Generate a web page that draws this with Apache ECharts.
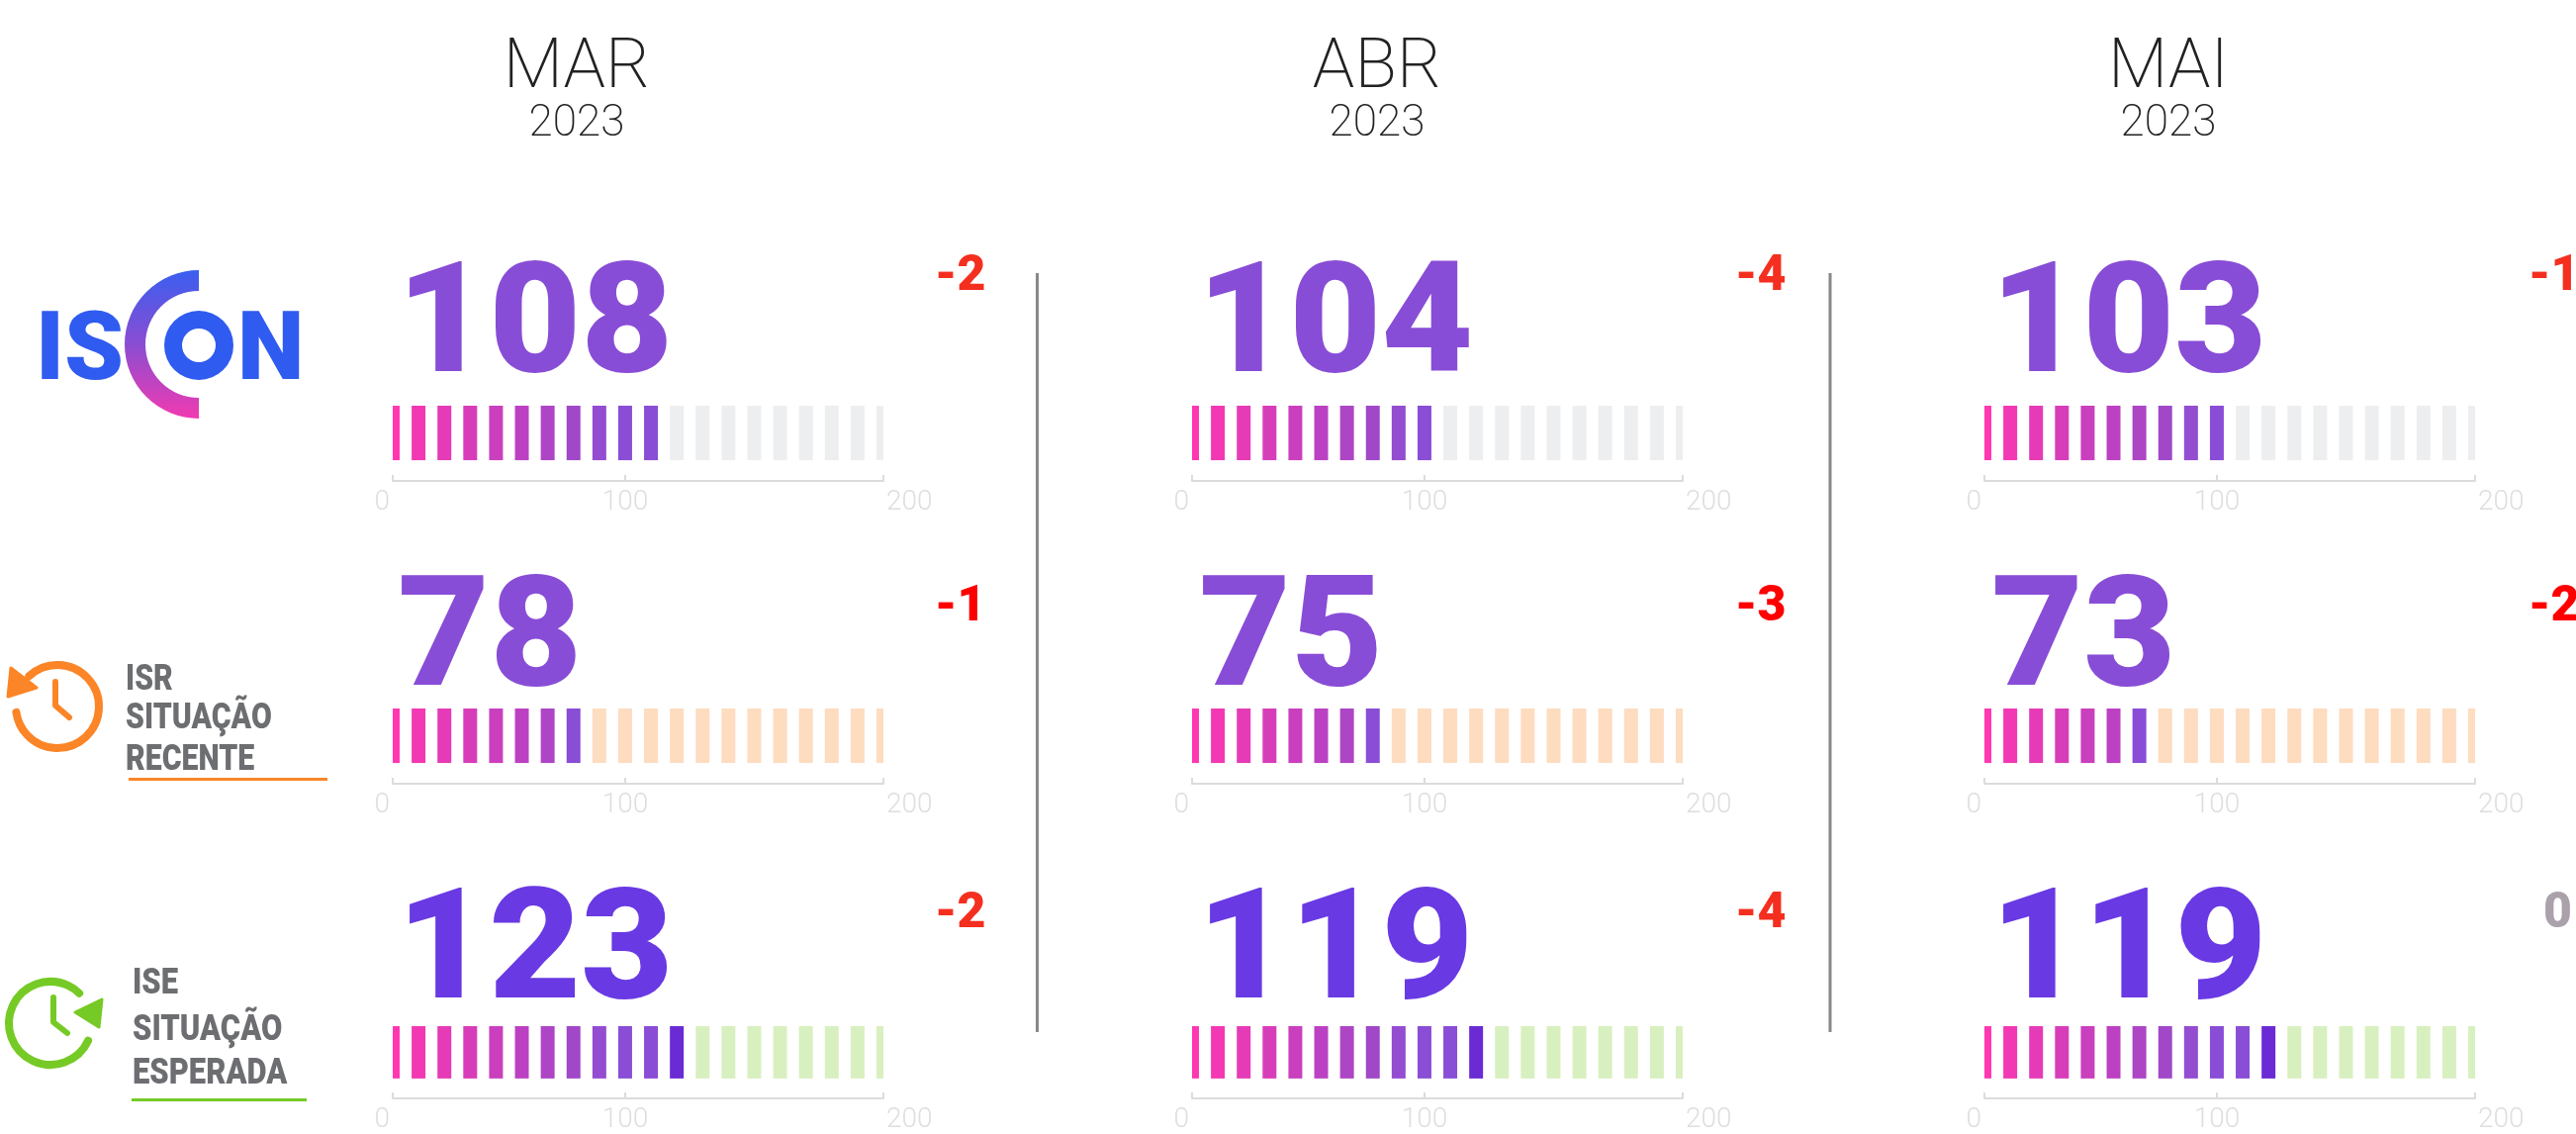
<!DOCTYPE html>
<html>
<head>
<meta charset="utf-8">
<title>ISCON</title>
<script src="https://cdn.jsdelivr.net/npm/echarts@6/dist/echarts.min.js"></script>
<style>
  html, body { margin: 0; padding: 0; background: #fff; }
  #main { width: 2604px; height: 1146px; }
</style>
</head>
<body>
<div id="main"></div>
<script>
// dados
const months = ['MAR', 'ABR', 'MAI']
const year = '2023'
const iscon = [108, 104, 103]
const isr = [78, 75, 73]
const ise = [123, 119, 119]
const isconDelta = ['-2', '-4', '-1']
const isrDelta = ['-1', '-3', '-2']
const iseDelta = ['-2', '-4', '0']
const cells = [10, 20, 30, 40, 50, 60, 70, 80, 90, 100, 110, 120, 130, 140, 150, 160, 170, 180, 190, 200]
const shownTicks = { 10: '0', 100: '100', 200: '200' }
const ramp = ['#ff38b2', '#f338b3', '#e53bb6', '#d83db9', '#ca3fbd', '#bc41c2', '#ad45c5', '#a048c8', '#944cd0', '#8a4dd6', '#8a4dd6']

// layout
const colLeft = [397, 1205, 2006]
const colWidth = 496
const rows = [
  { values: iscon, deltas: isconDelta, top: 410, axis: 486, numY: 320, deltaY: 275, numColor: '#884dd6', last: '#8a4dd6', rest: '#edeef0', deltaColor: '#f42f1f' },
  { values: isr, deltas: isrDelta, top: 716, axis: 792, numY: 637, deltaY: 609, numColor: '#884dd6', last: '#8a4dd6', rest: '#fddcc0', deltaColor: '#ff0000' },
  { values: ise, deltas: iseDelta, top: 1037, axis: 1113, numY: 953, deltaY: 919, numColor: '#6939e3', last: '#6a2bd4', rest: '#d8f0c0', deltaColor: '#f42f1f' }
]
const numLeft = [[401, 1210, 2012], [402, 1212, 2013], [401, 1210, 2012]]
const deltaLeft = [945, 1754, 2556]
const headerX = [583, 1392, 2192]

const grids = []
const xAxes = []
const yAxes = []
const series = []
const graphics = []

// y = centro da altura das maiusculas
function txt (text, x, y, size, weight, fill, align, scaleX) {
  graphics.push({
    type: 'text',
    silent: true,
    x: x,
    y: y + size * 0.1,
    scaleX: scaleX || 1,
    style: { text: text, x: 0, y: 0, font: weight + ' ' + size + 'px Roboto', fill: fill, textAlign: align || 'left', textVerticalAlign: 'middle' }
  })
}

// barra com corte nas bordas do grid (as das pontas ficam pela metade)
function renderCell (params, api) {
  const top = api.coord([api.value(0), 1])
  const base = api.coord([api.value(0), 0])
  const cs = params.coordSys
  return {
    type: 'rect',
    shape: echarts.graphic.clipRectByRect(
      { x: top[0] - 7, y: top[1], width: 14, height: base[1] - top[1] },
      { x: cs.x, y: cs.y, width: cs.width, height: cs.height }
    ),
    style: { fill: api.visual('color') }
  }
}

rows.forEach(function (row, r) {
  months.forEach(function (m, c) {
    const idx = grids.length
    const filled = Math.round(row.values[c] / 10)
    grids.push({ left: colLeft[c], top: row.top, width: colWidth, height: row.axis - row.top })
    xAxes.push({
      gridIndex: idx,
      type: 'category',
      boundaryGap: false,
      data: cells.map(String),
      axisLine: { onZero: false, lineStyle: { color: '#dcdcdc', width: 2 } },
      axisTick: {
        inside: true,
        length: 6,
        lineStyle: { color: '#dcdcdc', width: 2 },
        interval: function (i, v) { return shownTicks[v] !== undefined }
      },
      axisLabel: {
        margin: 8,
        color: '#dedede',
        fontFamily: 'Roboto',
        fontWeight: 300,
        fontSize: 28,
        showMinLabel: true,
        showMaxLabel: true,
        alignMinLabel: 'right',
        alignMaxLabel: 'left',
        interval: function (i, v) { return shownTicks[v] !== undefined },
        formatter: function (v) {
          if (v === '10') return '{min|0}'
          if (v === '200') return '{max|200}'
          return shownTicks[v]
        },
        rich: {
          min: { padding: [0, 3, 0, 0], color: '#dedede', fontFamily: 'Roboto', fontWeight: 300, fontSize: 28 },
          max: { padding: [0, 0, 0, 3], color: '#dedede', fontFamily: 'Roboto', fontWeight: 300, fontSize: 28 }
        }
      },
      splitLine: { show: false }
    })
    yAxes.push({ gridIndex: idx, type: 'value', min: -0.38, max: 1, show: false })
    series.push({
      type: 'custom',
      xAxisIndex: idx,
      yAxisIndex: idx,
      silent: true,
      animation: false,
      renderItem: renderCell,
      encode: { x: 0, y: 1 },
      data: cells.map(function (v, i) {
        let color = row.rest
        if (i < filled) color = i === filled - 1 ? row.last : ramp[Math.min(i, ramp.length - 1)]
        return { value: [i, 1], itemStyle: { color: color } }
      })
    })
    txt(String(row.values[c]), numLeft[r][c], row.numY, 156, 900, row.numColor, 'left', 1.03)
    const d = row.deltas[c]
    txt(d, d === '0' ? 2571 : deltaLeft[c], row.deltaY, 50, 900, d === '0' ? '#aaa1aa' : row.deltaColor)
  })
})

// cabecalho
months.forEach(function (m, c) {
  txt(m, headerX[c], 63, 70, 200, '#222222', 'center')
  txt(year, headerX[c], 122, 44, 200, '#222222', 'center')
})

// separadores
;[1048.5, 1850].forEach(function (x) {
  graphics.push({ type: 'line', silent: true, shape: { x1: x, y1: 276, x2: x, y2: 1043 }, style: { stroke: '#888888', lineWidth: 3 } })
})

// logo ISCON
txt('IS', 36, 349, 96, 900, '#2f5bf0')
txt('N', 240, 349, 96, 900, '#2f5bf0')
graphics.push({
  type: 'ring',
  silent: true,
  shape: { cx: 201, cy: 349, r: 35, r0: 17 },
  style: { fill: '#2f5bf0' }
})
graphics.push({
  type: 'sector',
  silent: true,
  shape: { cx: 201, cy: 348, r0: 54, r: 75, startAngle: Math.PI / 2, endAngle: Math.PI * 1.5, clockwise: true },
  style: {
    fill: {
      type: 'linear', x: 0, y: 0, x2: 0, y2: 1,
      colorStops: [{ offset: 0, color: '#3a5ef0' }, { offset: 0.5, color: '#8a4dd2' }, { offset: 1, color: '#f23ab0' }]
    }
  }
})

// icone ISR
const rad = Math.PI / 180
const orange = '#fb8527'
const labelGray = '#6d6e71'
graphics.push({ type: 'arc', silent: true, shape: { cx: 58, cy: 714, r: 42, startAngle: 227 * rad, endAngle: 532 * rad, clockwise: true }, style: { stroke: orange, fill: 'none', lineWidth: 8, lineCap: 'round' } })
graphics.push({ type: 'polygon', silent: true, shape: { points: [[11, 675], [8, 704], [37, 695]] }, style: { fill: orange, stroke: orange, lineWidth: 3, lineJoin: 'round' } })
graphics.push({ type: 'polyline', silent: true, shape: { points: [[56, 689], [56, 713], [70, 725]] }, style: { stroke: orange, fill: 'none', lineWidth: 6, lineCap: 'round', lineJoin: 'round' } })
txt('ISR', 127, 684, 36, 900, labelGray, 'left', 0.84)
txt('SITUAÇÃO', 127, 723, 36, 900, labelGray, 'left', 0.84)
txt('RECENTE', 127, 765, 36, 900, labelGray, 'left', 0.84)
graphics.push({ type: 'rect', silent: true, shape: { x: 130, y: 786, width: 201, height: 3 }, style: { fill: orange } })

// icone ISE
const green = '#76ca26'
graphics.push({ type: 'arc', silent: true, shape: { cx: 51, cy: 1034, r: 42, startAngle: 25 * rad, endAngle: 314 * rad, clockwise: true }, style: { stroke: green, fill: 'none', lineWidth: 8, lineCap: 'round' } })
graphics.push({ type: 'polygon', silent: true, shape: { points: [[103, 1010], [100, 1038], [76, 1023]] }, style: { fill: green, stroke: green, lineWidth: 3, lineJoin: 'round' } })
graphics.push({ type: 'polyline', silent: true, shape: { points: [[54, 1008], [54, 1033], [68, 1044]] }, style: { stroke: green, fill: 'none', lineWidth: 6, lineCap: 'round', lineJoin: 'round' } })
txt('ISE', 134, 991, 36, 900, labelGray, 'left', 0.86)
txt('SITUAÇÃO', 134, 1038, 36, 900, labelGray, 'left', 0.86)
txt('ESPERADA', 134, 1082, 36, 900, labelGray, 'left', 0.86)
graphics.push({ type: 'rect', silent: true, shape: { x: 133, y: 1110, width: 177, height: 3 }, style: { fill: green } })

const myChart = echarts.init(document.getElementById('main'))
myChart.setOption({
  animation: false,
  backgroundColor: '#ffffff',
  grid: grids,
  xAxis: xAxes,
  yAxis: yAxes,
  series: series,
  graphic: graphics
})
</script>
</body>
</html>
